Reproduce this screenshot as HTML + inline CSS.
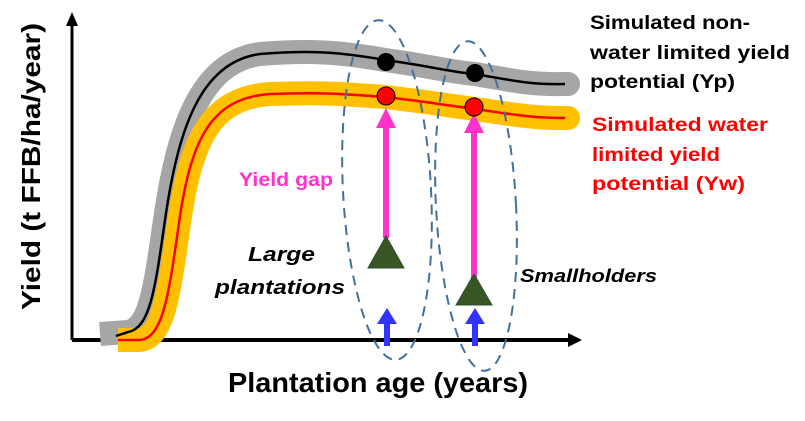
<!DOCTYPE html>
<html><head><meta charset="utf-8"><style>html,body{margin:0;padding:0;background:#fff}svg{display:block}</style></head>
<body>
<svg width="805" height="421" viewBox="0 0 805 421" xmlns="http://www.w3.org/2000/svg" font-family="Liberation Sans Narrow, Liberation Sans, sans-serif" font-weight="bold">
<defs>
<marker id="ah" markerWidth="10" markerHeight="10" refX="5" refY="5" orient="auto" markerUnits="userSpaceOnUse"><path d="M0,0 L10,5 L0,10 z" fill="#000"/></marker>
</defs>
<!-- axes -->
<line x1="72" y1="340" x2="72" y2="25" stroke="#000" stroke-width="3"/>
<path d="M66,26 L72,12 L78,26 z" fill="#000"/>
<line x1="72" y1="340" x2="570" y2="340" stroke="#000" stroke-width="4"/>
<path d="M568,333 L582,340 L568,347 z" fill="#000"/>
<!-- gray curve -->
<path d="M100,334 L128,332 C150,328 155,290 165,220 C178,130 200,62 260,54 C310,50 340,52 385,60 C430,66 450,72 475,74 C510,80 530,85 565,84" fill="none" stroke="#a6a6a6" stroke-width="24" stroke-linecap="butt"/>
<path d="M565,84 L568,84" stroke="#a6a6a6" stroke-width="24" stroke-linecap="round"/>
<!-- yellow curve -->
<path d="M118,340 L138,340 C162,340 168,300 178,230 C190,140 210,98 270,94 C320,92 345,94 385,97 C430,102 450,106 475,109 C510,114 530,118 565,118" fill="none" stroke="#ffc000" stroke-width="24" stroke-linecap="butt"/>
<path d="M565,118 L568,118" stroke="#ffc000" stroke-width="24" stroke-linecap="round"/>
<!-- black line -->
<path d="M116,336 L128,332 C150,328 155,290 165,220 C178,130 200,62 260,54 C310,50 340,52 385,60 C430,66 450,72 475,74 C510,80 530,85 565,84" fill="none" stroke="#000" stroke-width="2.5"/>
<!-- red line -->
<path d="M118,340 L138,340 C162,340 168,300 178,230 C190,140 210,98 270,94 C320,92 345,94 385,97 C430,102 450,106 475,109 C510,114 530,118 565,118" fill="none" stroke="#ff0000" stroke-width="2.5"/>
<!-- ellipses -->
<ellipse cx="387" cy="190" rx="44" ry="170" fill="none" stroke="#41719c" stroke-width="2" stroke-dasharray="10,7" transform="rotate(-3 387 190)"/>
<ellipse cx="476" cy="206" rx="40" ry="165" fill="none" stroke="#41719c" stroke-width="2" stroke-dasharray="10,7" transform="rotate(-3 476 206)"/>
<!-- pink arrows -->
<line x1="386" y1="238" x2="386" y2="125" stroke="#ff33cc" stroke-width="6"/>
<path d="M376,128 L386,108 L396,128 z" fill="#ff33cc"/>
<line x1="474" y1="278" x2="474" y2="130" stroke="#ff33cc" stroke-width="6"/>
<path d="M464,133 L474,113 L484,133 z" fill="#ff33cc"/>
<!-- dots -->
<circle cx="386" cy="62" r="9" fill="#000"/>
<circle cx="475" cy="73" r="9" fill="#000"/>
<circle cx="386" cy="96" r="9" fill="#ff0000" stroke="#000" stroke-width="1"/>
<circle cx="474" cy="107" r="9" fill="#ff0000" stroke="#000" stroke-width="1"/>
<!-- triangles -->
<path d="M386,236 L368,268 L404,268 z" fill="#375623" stroke="#2f4f2f" stroke-width="1"/>
<path d="M474,274 L456,305 L492,305 z" fill="#375623" stroke="#2f4f2f" stroke-width="1"/>
<!-- blue arrows -->
<line x1="387" y1="346" x2="387" y2="322" stroke="#3333ff" stroke-width="6"/>
<path d="M377,324 L387,308 L397,324 z" fill="#3333ff"/>
<line x1="475" y1="346" x2="475" y2="322" stroke="#3333ff" stroke-width="6"/>
<path d="M465,324 L475,308 L485,324 z" fill="#3333ff"/>
<!-- labels -->
<g font-size="19" fill="#000">
<text x="590" y="29" textLength="160" lengthAdjust="spacingAndGlyphs">Simulated non-</text>
<text x="590" y="59" textLength="200" lengthAdjust="spacingAndGlyphs">water limited yield</text>
<text x="590" y="88" textLength="145" lengthAdjust="spacingAndGlyphs">potential (Yp)</text>
</g>
<g font-size="19" fill="#ff0000">
<text x="592" y="131" textLength="176" lengthAdjust="spacingAndGlyphs">Simulated water</text>
<text x="592" y="161" textLength="128" lengthAdjust="spacingAndGlyphs">limited yield</text>
<text x="592" y="190" textLength="153" lengthAdjust="spacingAndGlyphs">potential (Yw)</text>
</g>
<text x="239" y="186" font-size="19" fill="#ff33cc" textLength="94" lengthAdjust="spacingAndGlyphs">Yield gap</text>
<g font-size="20" font-style="italic" fill="#000">
<text x="248" y="261" textLength="67" lengthAdjust="spacingAndGlyphs">Large</text>
<text x="215" y="294" textLength="130" lengthAdjust="spacingAndGlyphs">plantations</text>
<text x="520" y="282" font-size="18" textLength="137" lengthAdjust="spacingAndGlyphs">Smallholders</text>
</g>
<text x="228" y="392" font-size="28" fill="#000" textLength="300" lengthAdjust="spacingAndGlyphs">Plantation age (years)</text>
<text transform="translate(40,310) rotate(-90)" x="0" y="0" font-family="Liberation Sans, sans-serif" font-size="26" fill="#000" textLength="287" lengthAdjust="spacingAndGlyphs">Yield (t FFB/ha/year)</text>
</svg>
</body></html>
